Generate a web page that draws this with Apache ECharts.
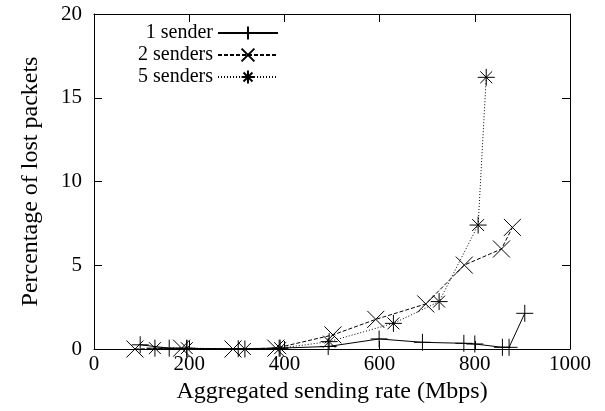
<!DOCTYPE html>
<html lang="en" style="height: 100%">
<head>
  <meta charset="utf-8">
</head>
<body style="height: 100%; margin: 0; background: #fff">
  <div id="container" style="width: 605px; height: 411px"></div>

  <script type="text/javascript" src="https://fastly.jsdelivr.net/npm/echarts@6/dist/echarts.min.js"></script>
  <script type="text/javascript">
    // data: [rate Mbps, % lost]
    var seriesNames = ['1 sender', '2 senders', '5 senders'];
    var oneSender = [
      [97, 0.25], [158, 0.05], [195, 0.03], [303, 0.02], [389, 0.05],
      [492, 0.15], [599, 0.6], [690, 0.4], [777, 0.34], [800, 0.3],
      [858, 0.1], [872, 0.1], [905, 2.13]
    ];
    var twoSenders = [
      [86, 0], [184, 0.05], [292, 0], [382, 0.05], [502, 0.84],
      [592, 1.77], [697, 2.69], [778, 5.01], [856, 5.97], [879, 7.26]
    ];
    var fiveSenders = [
      [128, 0.05], [195, 0.05], [317, 0], [391, 0.05], [494, 0.44],
      [629, 1.53], [725, 2.83], [807, 7.4], [824, 16.22]
    ];
    var xTicks = [0, 200, 400, 600, 800, 1000];
    var yTicks = [0, 5, 10, 15, 20];

    var font = 'Liberation Serif';
    var plusPath = 'path://M0,5L10,5M5,0L5,10';
    var crossPath = 'path://M0,0L10,10M0,10L10,0';
    var starPath = 'path://M0,5L10,5M5,0L5,10M1.5,1.5L8.5,8.5M1.5,8.5L8.5,1.5';

    var dom = document.getElementById('container');
    var myChart = echarts.init(dom, null, { renderer: 'canvas' });

    function mkSeries(name, data, symbol, dash) {
      return {
        type: 'line',
        name: name,
        data: data,
        symbol: symbol,
        symbolSize: 17,
        showSymbol: true,
        animation: false,
        itemStyle: { color: '#000', borderColor: '#000', borderWidth: 1 },
        lineStyle: { color: '#000', width: 1, type: dash },
        emphasis: { disabled: true }
      };
    }

    var baseX = {
      type: 'value', min: xTicks[0], max: xTicks[xTicks.length - 1], interval: 200,
      axisLine: { show: true, onZero: false, lineStyle: { color: '#000', width: 1 } },
      axisTick: { show: true, inside: true, length: 8, lineStyle: { color: '#000' } },
      splitLine: { show: false }
    };
    var baseY = {
      type: 'value', min: yTicks[0], max: yTicks[yTicks.length - 1], interval: 5,
      axisLine: { show: true, onZero: false, lineStyle: { color: '#000', width: 1 } },
      axisTick: { show: true, inside: true, length: 8, lineStyle: { color: '#000' } },
      splitLine: { show: false }
    };

    var option = {
      backgroundColor: '#fff',
      textStyle: { fontFamily: font, color: '#000' },
      grid: { left: 94, right: 35, top: 14, bottom: 62 },
      legend: {
        data: seriesNames,
        orient: 'vertical',
        align: 'right',
        left: 133,
        top: 18,
        itemWidth: 60,
        itemHeight: 16,
        itemGap: 2,
        textStyle: { fontFamily: font, fontSize: 20, color: '#000' }
      },
      xAxis: [
        Object.assign({}, baseX, {
          position: 'bottom',
          name: 'Aggregated sending rate (Mbps)',
          nameLocation: 'middle',
          nameGap: 16,
          nameTextStyle: { fontFamily: font, fontSize: 24, color: '#000' },
          axisLabel: {
            fontFamily: font, fontSize: 21, color: '#000', margin: 5,
            formatter: function (v) { return String(v); }
          }
        }),
        Object.assign({}, baseX, { position: 'top', axisLabel: { show: false } })
      ],
      yAxis: [
        Object.assign({}, baseY, {
          position: 'left',
          name: 'Percentage of lost packets',
          nameLocation: 'middle',
          nameGap: 51,
          nameTextStyle: { fontFamily: font, fontSize: 24, color: '#000' },
          axisLabel: { fontFamily: font, fontSize: 21, color: '#000', margin: 12 }
        }),
        Object.assign({}, baseY, { position: 'right', axisLabel: { show: false } })
      ],
      series: [
        mkSeries(seriesNames[0], oneSender, plusPath, 'solid'),
        mkSeries(seriesNames[1], twoSenders, crossPath, [4, 2]),
        mkSeries(seriesNames[2], fiveSenders, starPath, [1, 2])
      ]
    };

    myChart.setOption(option);
    window.addEventListener('resize', myChart.resize);
  </script>
</body>
</html>
